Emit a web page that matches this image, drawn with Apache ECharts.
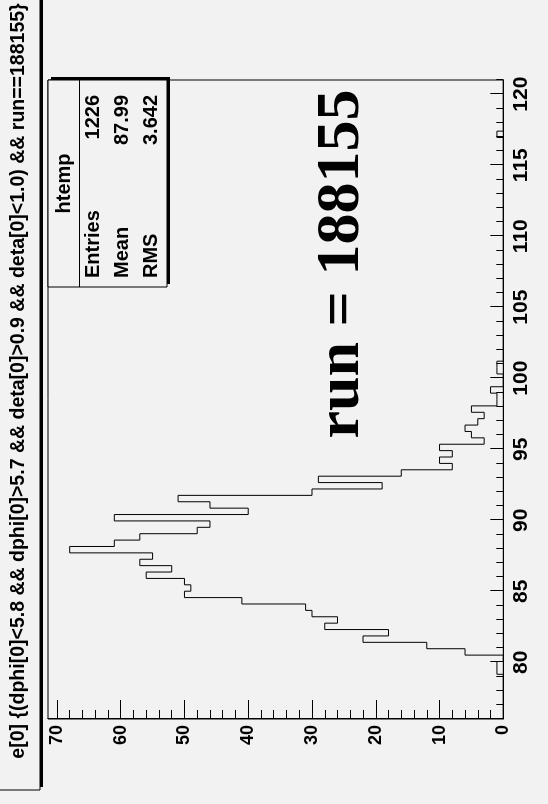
<!DOCTYPE html>
<html><head><meta charset="utf-8">
<script src="https://cdn.jsdelivr.net/npm/echarts@6/dist/echarts.min.js"></script>
<style>
html,body{margin:0;padding:0;width:548px;height:804px;overflow:hidden;background:#f2f2f2;}
#rot{position:absolute;left:0;top:0;width:804px;height:548px;transform-origin:0 0;transform:translateY(804px) rotate(-90deg);}
</style></head><body><div id="rot"></div>
<script>
// ---- data ----
const binMin = 76, binMax = 121, nBins = 100;
const counts = [
  0,0,0,0,0,0,0,1,1,0,
  6,12,22,18,28,26,30,31,41,50,
  49,50,56,52,57,55,68,61,57,48,
  46,61,40,46,51,30,19,29,16,8,
  10,8,10,3,5,6,4,3,5,1,
  1,2,0,0,1,1,0,0,0,0,
  0,0,0,0,0,0,0,0,0,0,
  0,0,0,0,0,0,0,0,0,0,
  0,0,0,0,0,0,0,0,0,0,
  0,1,0,0,0,0,0,0,0,0
];
const xMajorTicks = [80,85,90,95,100,105,110,115,120];
const xMinorTicks = [77,78,79,81,82,83,84,86,87,88,89,91,92,93,94,96,97,98,99,101,102,103,104,106,107,108,109,111,112,113,114,116,117,118,119,121];
const yMajorTicks = [0,10,20,30,40,50,60,70];
const yMinorTicks = [2,4,6,8,12,14,16,18,22,24,26,28,32,34,36,38,42,44,46,48,52,54,56,58,62,64,66,68];
const yMax = 71.4;
const titleText = "e[0] {(dphi[0]<5.8 && dphi[0]>5.7 && deta[0]>0.9 && deta[0]<1.0) && run==188155}";
const statsName = "htemp";
const statsLabels = ["Entries", "Mean", "RMS"];
const statsValues = ["1226", "87.99", "3.642"];
const runLabel = "run = 188155";

// ---- build ----
const binW = (binMax - binMin) / nBins;
const stepData = counts.map((c, i) => [binMin + i * binW, c]);
stepData.push([binMax, counts[nBins - 1]]);

const SANS = "'Liberation Sans', Arial, Helvetica, sans-serif";
const SERIF = "'Liberation Serif', 'Times New Roman', serif";
const G = {left: 85, right: 80, top: 48, bottom: 44.7};
const W = 804, H = 548;

const chart = echarts.init(document.getElementById('rot'), null, {renderer: 'canvas', width: W, height: H});

const graphics = [];
// title box with shadow
graphics.push({type: 'rect', shape: {x: 17, y: -5, width: 900, height: 48}, style: {fill: '#000'}, z: 10});
graphics.push({type: 'rect', shape: {x: 14, y: -8, width: 900, height: 48}, style: {fill: '#f2f2f2', stroke: '#000', lineWidth: 1}, z: 11});
graphics.push({type: 'text', x: 423, y: 19, z: 12, style: {text: titleText, font: "bold 19.5px " + SANS, fill: '#000', align: 'center', verticalAlign: 'middle'}});

// stats box
const sx = 517, sy = 48, sw = 207, sh = 119;
graphics.push({type: 'rect', shape: {x: sx + 3, y: sy + 3, width: sw, height: sh}, style: {fill: '#000'}, z: 10});
graphics.push({type: 'rect', shape: {x: sx, y: sy, width: sw, height: sh}, style: {fill: '#f2f2f2', stroke: '#000', lineWidth: 1}, z: 11});
graphics.push({type: 'line', shape: {x1: sx, y1: 79.5, x2: sx + sw, y2: 79.5}, style: {stroke: '#000', lineWidth: 1}, z: 12});
graphics.push({type: 'text', x: sx + sw / 2, y: 64, z: 12, style: {text: statsName, font: "bold 20px " + SANS, fill: '#000', align: 'center', verticalAlign: 'middle'}});
const rowY = [93, 122, 151];
statsLabels.forEach((t, i) => {
  graphics.push({type: 'text', x: 526, y: rowY[i], z: 12, style: {text: t, font: "bold 20px " + SANS, fill: '#000', align: 'left', verticalAlign: 'middle'}});
  graphics.push({type: 'text', x: 709, y: rowY[i], z: 12, style: {text: statsValues[i], font: "bold 20px " + SANS, fill: '#000', align: 'right', verticalAlign: 'middle'}});
});
// run label
graphics.push({type: 'text', x: 540, y: 342, z: 12, style: {text: runLabel, font: "bold 62px " + SERIF, fill: '#000', align: 'center', verticalAlign: 'middle'}});

chart.setOption({
  backgroundColor: '#f2f2f2',
  animation: false,
  grid: {left: G.left, right: G.right, top: G.top, bottom: G.bottom, show: true, borderColor: '#000', borderWidth: 1, backgroundColor: 'transparent', containLabel: false},
  xAxis: [
    {type: 'value', min: binMin, max: binMax, position: 'bottom', offset: 0,
     axisLine: {show: true, onZero: false, lineStyle: {color: '#000', width: 1}},
     axisTick: {show: true, inside: true, length: 13, customValues: xMajorTicks, lineStyle: {color: '#000', width: 1}},
     axisLabel: {show: true, customValues: xMajorTicks, margin: 7, color: '#000', fontSize: 21, fontWeight: 'bold', fontFamily: SANS},
     splitLine: {show: false}},
    {type: 'value', min: binMin, max: binMax, position: 'bottom', offset: 0,
     axisLine: {show: false},
     axisTick: {show: true, inside: true, length: 7, customValues: xMinorTicks, lineStyle: {color: '#000', width: 1}},
     axisLabel: {show: false}, splitLine: {show: false}}
  ],
  yAxis: [
    {type: 'value', min: 0, max: yMax, position: 'left', offset: 0,
     axisLine: {show: true, onZero: false, lineStyle: {color: '#000', width: 1}},
     axisTick: {show: true, inside: true, length: 19, customValues: yMajorTicks, lineStyle: {color: '#000', width: 1}},
     axisLabel: {show: true, customValues: yMajorTicks, margin: 6, color: '#000', fontSize: 18, fontWeight: 'bold', fontFamily: SANS},
     splitLine: {show: false}},
    {type: 'value', min: 0, max: yMax, position: 'left', offset: 0,
     axisLine: {show: false},
     axisTick: {show: true, inside: true, length: 9, customValues: yMinorTicks, lineStyle: {color: '#000', width: 1}},
     axisLabel: {show: false}, splitLine: {show: false}}
  ],
  series: [{
    type: 'line', xAxisIndex: 0, yAxisIndex: 0, data: stepData, step: 'end',
    symbol: 'none', lineStyle: {color: '#000', width: 1}, clip: true, silent: true
  }],
  graphic: graphics
});
</script></body></html>
